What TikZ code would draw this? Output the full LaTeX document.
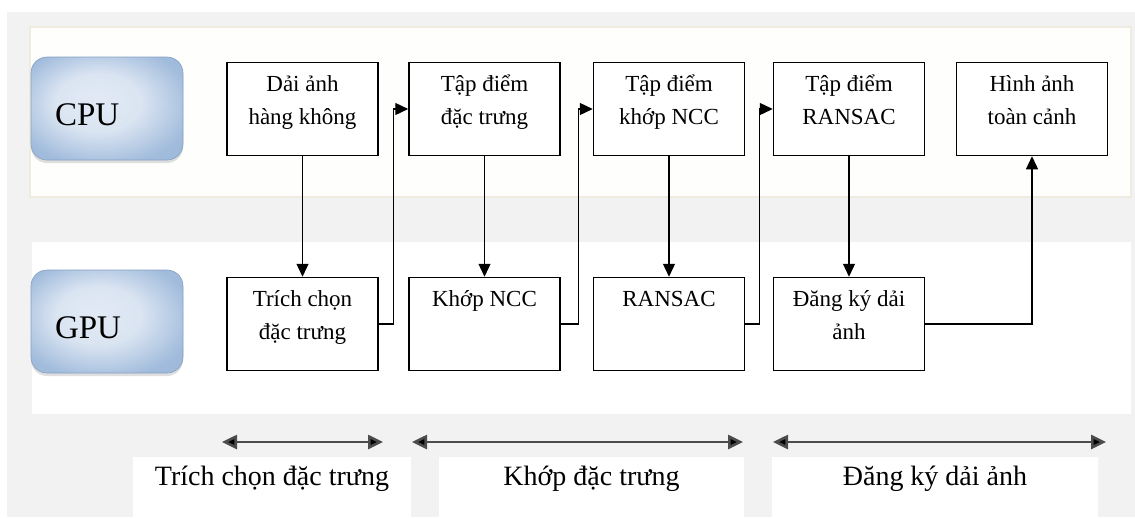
\documentclass[tikz,border=0pt]{standalone}
\usepackage{fontspec}
\setmainfont{Liberation Serif}
\usetikzlibrary{arrows.meta,shadows}
\definecolor{outergray}{HTML}{F2F2F2}
\definecolor{bandfill}{HTML}{FEFEFD}
\definecolor{bandedge}{HTML}{EFEBDF}
\definecolor{blueedge}{HTML}{95B3D7}
\definecolor{bluelight}{HTML}{E2EAF5}
\pgfdeclareradialshading{unitshade}{\pgfpoint{-4bp}{4bp}}{color(0bp)=(bluelight); color(14bp)=(bluelight!90!blueedge); color(30bp)=(blueedge!85!bluelight); color(50bp)=(blueedge)}
\newcommand{\boxtxt}[2]{\parbox[c][#1pt][t]{151pt}{\centering\fontsize{23}{33}\selectfont\rule{0pt}{29pt}#2}}
\newcommand{\labtxt}[2]{\parbox[c][60pt][t]{#1pt}{\centering\fontsize{28}{34}\selectfont\rule{0pt}{28pt}#2}}
\newcommand{\unittxt}[1]{\parbox[c][103pt][t]{152pt}{\fontsize{33}{40}\selectfont\rule{0pt}{68pt}\hspace*{24pt}#1}}
\begin{document}
\begin{tikzpicture}[x=1pt,y=-1pt,
  stagebox/.style={draw=black,line width=1.5pt,fill=white,inner sep=0pt,minimum width=151pt,minimum height=93pt},
  unitbox/.style={rounded corners=16pt,inner sep=0pt,minimum width=152pt,minimum height=103pt,
     draw=blueedge!90!black,line width=0.6pt,shading=unitshade,
     drop shadow={shadow xshift=0pt,shadow yshift=-3pt,opacity=0.25}},
  labbox/.style={fill=white,inner sep=0pt},
  conn/.style={line width=1.3pt,draw=black,-{Triangle[length=13pt,width=12pt]}},
  span/.style={line width=2.6pt,draw=black!70,{Triangle[length=15pt,width=14pt,fill=black]}-{Triangle[length=15pt,width=14pt,fill=black]}}
]
\useasboundingbox (0,0) rectangle (1135,517);
\fill[white] (0,0) rectangle (1135,517);
\fill[outergray] (7,12) rectangle (1135,517);
\filldraw[fill=bandfill,draw=bandedge,line width=1.2pt] (30,27) rectangle (1131,197);
\fill[white] (32,242) rectangle (1131,414);

\node[unitbox] (cpu) at (107,108.5) {\unittxt{CPU}};
\node[unitbox] (gpu) at (107,321.5) {\unittxt{GPU}};

\node[stagebox] (t1) at (302.5,109) {\boxtxt{93}{Dải ảnh\\hàng không}};
\node[stagebox] (t2) at (484.5,109) {\boxtxt{93}{Tập điểm\\đặc trưng}};
\node[stagebox] (t3) at (669,109) {\boxtxt{93}{Tập điểm\\khớp NCC}};
\node[stagebox] (t4) at (849,109) {\boxtxt{93}{Tập điểm\\RANSAC}};
\node[stagebox] (t5) at (1032,109) {\boxtxt{93}{Hình ảnh\\toàn cảnh}};

\node[stagebox] (b1) at (302.5,324) {\boxtxt{93}{Trích chọn\\đặc trưng}};
\node[stagebox] (b2) at (484.5,324) {\boxtxt{93}{Khớp NCC}};
\node[stagebox] (b3) at (669,324) {\boxtxt{93}{RANSAC}};
\node[stagebox] (b4) at (849,324) {\boxtxt{93}{Đăng ký dải\\ảnh}};

\draw[conn] (t1.south) -- (b1.north);
\draw[conn] (t2.south) -- (b2.north);
\draw[conn] (t3.south) -- (b3.north);
\draw[conn] (t4.south) -- (b4.north);
\draw[conn] (b1.east) -- ++(15,0) |- (t2.west);
\draw[conn] (b2.east) -- ++(18,0) |- (t3.west);
\draw[conn] (b3.east) -- ++(14,0) |- (t4.west);
\draw[conn] (b4.east) -| (t5.south);

\node[labbox] (l1) at (272,487) {\labtxt{278}{Trích chọn đặc trưng}};
\node[labbox] (l2) at (591.5,487) {\labtxt{305}{Khớp đặc trưng}};
\node[labbox] (l3) at (935,487) {\labtxt{326}{Đăng ký dải ảnh}};

\coordinate (a1s) at (222,442);
\coordinate (a1e) at (383,442);
\coordinate (a2s) at (412,442);
\coordinate (a2e) at (743,442);
\coordinate (a3s) at (773,442);
\coordinate (a3e) at (1106,442);
\draw[span] (a1s) -- (a1e);
\draw[span] (a2s) -- (a2e);
\draw[span] (a3s) -- (a3e);
\end{tikzpicture}
\end{document}
